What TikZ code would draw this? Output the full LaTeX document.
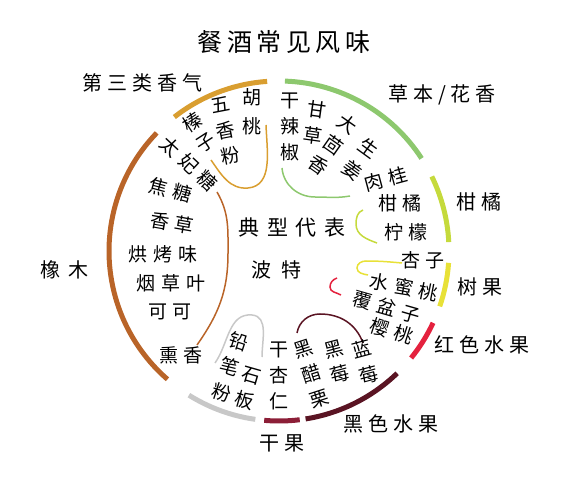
\documentclass[tikz,border=0pt]{standalone}
\usepackage{fontspec}
\newfontfamily\cjk{Noto Sans CJK SC}
\newfontfamily\cjkls[LetterSpace=25]{Noto Sans CJK SC}
\newfontfamily\cjkin[LetterSpace=31]{Noto Sans CJK SC}
\definecolor{aroma}{RGB}{217,158,48}
\definecolor{herb}{RGB}{141,200,110}
\definecolor{citrus}{RGB}{197,218,60}
\definecolor{treefruit}{RGB}{232,225,55}
\definecolor{redfruit}{RGB}{228,34,62}
\definecolor{blackfruit}{RGB}{90,20,35}
\definecolor{dryfruit}{RGB}{140,30,55}
\definecolor{mineral}{RGB}{200,200,200}
\definecolor{oak}{RGB}{185,100,40}
\begin{document}
\begin{tikzpicture}[x=1pt,y=1pt,
        lbl/.style={inner sep=0pt,font=\fontsize{20}{26}\selectfont\cjkls},
        inlbl/.style={inner sep=0pt,font=\fontsize{19}{26}\selectfont\cjkin},
        col/.style={inner sep=0pt,align=center,font=\fontsize{19}{26}\selectfont\cjk},
        band/.style={line width=5pt},
        link/.style={line width=1.5pt}]
    \useasboundingbox (0,0) rectangle (585,479);
    \coordinate (O) at (279,228);
    %% title
    \node[lbl,font=\fontsize{25}{25}\selectfont\cjk\addfontfeature{LetterSpace=18}] (title) at (284,437) {餐酒常见风味};
    %% outer bands
    \draw[band,aroma] (O) ++(94:170) arc (94:128:170);
    \draw[band,herb] (O) ++(33:170) arc (33:88:170);
    \draw[band,citrus] (O) ++(3:170) arc (3:26:170);
    \draw[band,treefruit] (O) ++(-19:170) arc (-19:-4:170);
    \draw[band,redfruit] (O) ++(-39:170) arc (-39:-25:170);
    \draw[band,blackfruit] (O) ++(-81:170) arc (-81:-46:170);
    \draw[band,dryfruit] (O) ++(-95:170) arc (-95:-83:170);
    \draw[band,mineral] (O) ++(-122:170) arc (-122:-98:170);
    \draw[band,oak] (O) ++(136:170) arc (136:229:170);
    %% outer labels
    \node[lbl] (aromaL) at (142,396) {第三类香气};
    \node[lbl] (herbL) at (442,384) {草本/花香};
    \node[lbl] (citrusL) at (479,277) {柑橘};
    \node[lbl] (treeL) at (480,192) {树果};
    \node[lbl] (redL) at (482,134) {红色水果};
    \node[lbl] (blackL) at (391,55) {黑色水果};
    \node[lbl] (dryL) at (282,36) {干果};
    \node[lbl] (oakL) at (64,209) {橡\hspace{8pt}木};
    %% centre
    \node[lbl,font=\fontsize{21}{21}\selectfont\cjk\addfontfeature{LetterSpace=36}] (typ) at (292,251) {典型代表};
    \node[lbl] (port) at (276,209) {波\hspace{10pt}特};
    %% third class aromas
    \draw[link,aroma] (211,319) to[out=-55,in=185] (248,291) to[out=5,in=-88] (266,354);
    \node[col,font=\fontsize{19}{29}\selectfont\cjk] (walnut) at (252,367) {胡\\桃};
    \node[col,rotate=11] (spice) at (226,348) {五\\香\\粉};
    \node[col,font=\fontsize{19}{24}\selectfont\cjk,rotate=33] (hazel) at (199,347) {榛\\子};
    %% herbs
    \draw[link,herb] (282,311) to[out=-85,in=180] (315,282) to[out=0,in=190] (350,283);
    \node[col] (chili) at (290,352) {干\\辣\\椒};
    \node[col,rotate=-8] (licorice) at (315,356) {甘\\草};
    \node[col,font=\fontsize{19}{25}\selectfont\cjk,rotate=-35] (anise) at (333,334) {大\\茴\\香};
    \node[col,font=\fontsize{19}{27}\selectfont\cjk,rotate=-36] (ginger) at (360,320) {生\\姜};
    \node[inlbl,rotate=15] (cinnamon) at (386,300) {肉桂};
    %% citrus
    \draw[link,citrus] (363,269) to[out=200,in=90] (356,255) to[out=-90,in=160] (377,236);
    \node[inlbl] (orange) at (400,276) {柑橘};
    \node[inlbl] (lemon) at (406,247) {柠檬};
    %% tree fruit
    \draw[link,treefruit] (368,204) to[out=170,in=-90] (357,211) to[out=90,in=180] (366,218) to[out=0,in=175] (402,216);
    \node[inlbl] (apricot) at (423,219) {杏子};
    \node[inlbl,rotate=-11] (peach) at (404,192) {水蜜桃};
    %% red fruit
    \draw[link,redfruit] (337,201) to[out=200,in=90] (330,192) to[out=-90,in=150] (341,184);
    \node[inlbl,rotate=-16] (rasp) at (387,172) {覆盆子};
    \node[inlbl,rotate=-18] (cherry) at (392,148) {樱桃};
    %% black fruit
    \draw[link,blackfruit] (297,146) to[out=80,in=180] (320,165) to[out=0,in=110] (363,136);
    \node[col,rotate=18] (cassis) at (311,105) {黑\\醋\\栗};
    \node[col,rotate=15] (blackberry) at (337,117) {黑\\莓};
    \node[col,rotate=15] (blueberry) at (365,117) {蓝\\莓};
    %% dried fruit
    \node[col] (almond) at (279,103) {干\\杏\\仁};
    %% mineral
    \draw[link,mineral] (215,116) to[out=55,in=175] (252,164) to[out=-5,in=90] (262,122);
    \node[col,font=\fontsize{19}{27}\selectfont\cjk,rotate=-18] (pencil) at (230,112) {铅\\笔\\粉};
    \node[col,rotate=-16] (slate) at (248,91) {石\\板};
    %% oak
    \draw[link,oak] (217,287) to[out=-60,in=90] (228,226) to[out=-90,in=55] (197,134);
    \node[inlbl,rotate=-43] (toffee) at (189,315) {太妃糖};
    \node[inlbl,rotate=-15] (caramel) at (171,289) {焦糖};
    \node[inlbl,rotate=-10] (vanilla) at (172,256) {香草};
    \node[inlbl] (toast) at (163,225) {烘烤味};
    \node[inlbl] (tobacco) at (171,196) {烟草叶};
    \node[inlbl] (cocoa) at (170,167) {可可};
    \node[inlbl] (smoke) at (181,124) {熏香};
\end{tikzpicture}
\end{document}
